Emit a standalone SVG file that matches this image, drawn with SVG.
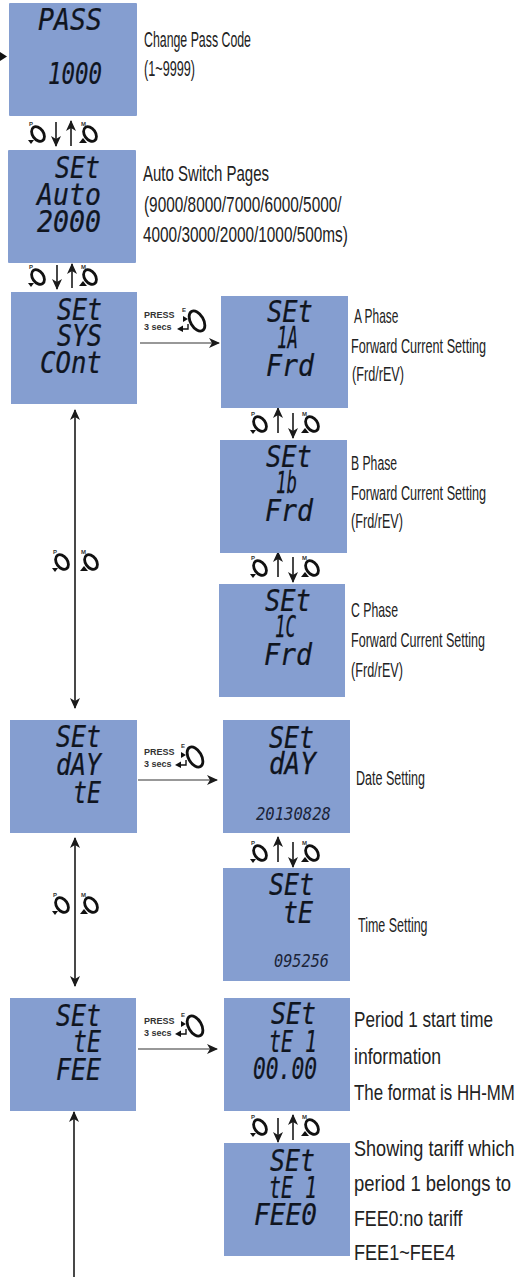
<svg xmlns="http://www.w3.org/2000/svg" width="517" height="1278" viewBox="0 0 517 1278">
<style>
text{font-family:"Liberation Sans",Arial,sans-serif;fill:#222}
.box{fill:#859ed0}
.lcd{font-family:"DejaVu Sans Mono",monospace;font-style:italic;font-size:24px;fill:#10151f;stroke:#10151f;stroke-width:.2}
.dig{font-family:"DejaVu Sans Mono",monospace;font-style:italic;font-size:17px;fill:#1b2438}
.lb{font-size:22px}
.lm{font-size:21px}
.ll{font-size:22px}
.pr{font-size:9px;font-weight:bold;fill:#333}
.k{font-size:6px;font-weight:bold;fill:#333}
.ln{stroke:#1a1a1a;stroke-width:1.6;fill:none}
.th{stroke:#333;stroke-width:1.2;fill:none}
.ring{fill:none;stroke:#111;stroke-width:2.8}
</style>
<defs>
<marker id="ah" markerUnits="userSpaceOnUse" markerWidth="13" markerHeight="12" refX="10" refY="5.5" orient="auto-start-reverse"><path d="M0 0.5L11 5.5L0 10.5L3 5.5Z" fill="#1a1a1a"/></marker>
<g id="bp"><ellipse rx="5.5" ry="8" transform="rotate(-35)" class="ring"/><path d="M-10 6L-4 6L-7 10Z" fill="#111"/></g>
<g id="bm"><ellipse rx="5.5" ry="8" transform="rotate(-35)" class="ring"/><path d="M-11 9L-3 9L-7 4Z" fill="#111"/></g>
<g id="be"><ellipse rx="6.5" ry="11" transform="rotate(-30)" class="ring"/><path d="M-14 -5L-14 1L-9 -2Z" fill="#111"/><path d="M-9 3V8H-15" fill="none" stroke="#111" stroke-width="1.4"/><path d="M-20 8L-14 4.5V11Z" fill="#111"/></g>
</defs>

<g id="connectors">
<path d="M0 52L7 56.5L0 61Z" fill="#111"/>
<path class="ln" marker-end="url(#ah)" d="M56 122V146"/>
<path class="ln" marker-end="url(#ah)" d="M71 146V121"/>
<path class="ln" marker-end="url(#ah)" d="M57 265V289"/>
<path class="ln" marker-end="url(#ah)" d="M72 288V264"/>
<path class="ln" marker-end="url(#ah)" d="M278 433V408"/>
<path class="ln" marker-end="url(#ah)" d="M293 413V438"/>
<path class="ln" marker-end="url(#ah)" d="M278 577V552"/>
<path class="ln" marker-end="url(#ah)" d="M293 557V582"/>
<path class="ln" marker-end="url(#ah)" d="M278 862V837"/>
<path class="ln" marker-end="url(#ah)" d="M293 842V867"/>
<path class="ln" marker-end="url(#ah)" d="M278 1118V1142"/>
<path class="ln" marker-end="url(#ah)" d="M293 1140V1115"/>
<path class="ln" marker-start="url(#ah)" marker-end="url(#ah)" d="M75 410V708"/>
<path class="ln" marker-start="url(#ah)" marker-end="url(#ah)" d="M75 838V986"/>
<path class="ln" marker-end="url(#ah)" d="M74 1277V1112"/>
<path class="th" marker-end="url(#ah)" d="M140 343H219"/>
<path class="th" marker-end="url(#ah)" d="M138 780H217"/>
<path class="th" marker-end="url(#ah)" d="M138 1049H217"/>
<g id="buttons">
<use href="#bp" x="38" y="134"/><use href="#bm" x="90" y="134"/><text class="k" x="29" y="126">P</text><text class="k" x="81" y="126">M</text>
<use href="#bp" x="38" y="277"/><use href="#bm" x="90" y="277"/><text class="k" x="29" y="269">P</text><text class="k" x="81" y="269">M</text>
<use href="#bp" x="260" y="424"/><use href="#bm" x="312" y="424"/><text class="k" x="251" y="416">P</text><text class="k" x="302" y="416">M</text>
<use href="#bp" x="260" y="568"/><use href="#bm" x="312" y="568"/><text class="k" x="251" y="560">P</text><text class="k" x="302" y="560">M</text>
<use href="#bp" x="260" y="853"/><use href="#bm" x="312" y="853"/><text class="k" x="251" y="845">P</text><text class="k" x="302" y="845">M</text>
<use href="#bp" x="260" y="1127"/><use href="#bm" x="312" y="1127"/><text class="k" x="251" y="1119">P</text><text class="k" x="302" y="1119">M</text>
<use href="#bp" x="62" y="562"/><use href="#bm" x="91" y="562"/><text class="k" x="53" y="554">P</text><text class="k" x="81" y="554">M</text>
<use href="#bp" x="62" y="905"/><use href="#bm" x="91" y="905"/><text class="k" x="53" y="897">P</text><text class="k" x="81" y="897">M</text>
</g>
<g id="press1"><text class="pr" x="144" y="318">PRESS</text><text class="pr" x="144" y="330">3 secs</text><use href="#be" x="197" y="321"/><text class="k" x="182" y="312">E</text></g>
<g id="press2"><text class="pr" x="144" y="755">PRESS</text><text class="pr" x="144" y="767">3 secs</text><use href="#be" x="195" y="757"/><text class="k" x="181" y="748">E</text></g>
<g id="press3"><text class="pr" x="144" y="1024">PRESS</text><text class="pr" x="144" y="1036">3 secs</text><use href="#be" x="195" y="1026"/><text class="k" x="181" y="1017">E</text></g>
</g>

<g id="node-pass"><rect class="box" x="9" y="3" width="128" height="113" rx="1"/>
<text class="lcd" transform="matrix(1.107 0 0 1.25 38 30)">PASS</text>
<text class="lcd" transform="matrix(.934 0 0 1.25 48 84)">1000</text></g>
<g id="node-auto"><rect class="box" x="8" y="150" width="128" height="113" rx="1"/>
<text class="lcd" transform="matrix(1.04 0 0 1.25 55 178)">SEt</text>
<text class="lcd" transform="matrix(1.107 0 0 1.25 37 205)">Auto</text>
<text class="lcd" transform="matrix(1.107 0 0 1.25 37 232)">2000</text></g>
<g id="node-sys"><rect class="box" x="11" y="292" width="126" height="112"/>
<text class="lcd" transform="matrix(1.04 0 0 1.25 57 320)">SEt</text>
<text class="lcd" transform="matrix(1.04 0 0 1.25 57 346)">SYS</text>
<text class="lcd" transform="matrix(1.07 0 0 1.25 40 373)">COnt</text></g>
<g id="node-1a"><rect class="box" x="221" y="296" width="127" height="112"/>
<text class="lcd" transform="matrix(1.06 0 0 1.25 267 322)">SEt</text>
<text class="lcd" transform="matrix(.727 0 0 1.25 277 348)">1A</text>
<text class="lcd" transform="matrix(1.107 0 0 1.25 266 376)">Frd</text></g>
<g id="node-1b"><rect class="box" x="220" y="440" width="127" height="113"/>
<text class="lcd" transform="matrix(1.06 0 0 1.25 266 467)">SEt</text>
<text class="lcd" transform="matrix(.727 0 0 1.25 276 493)">1b</text>
<text class="lcd" transform="matrix(1.107 0 0 1.25 265 521)">Frd</text></g>
<g id="node-1c"><rect class="box" x="219" y="584" width="126" height="113"/>
<text class="lcd" transform="matrix(1.06 0 0 1.25 265 611)">SEt</text>
<text class="lcd" transform="matrix(.727 0 0 1.25 275 637)">1C</text>
<text class="lcd" transform="matrix(1.107 0 0 1.25 264 665)">Frd</text></g>
<g id="node-day"><rect class="box" x="10" y="720" width="127" height="113"/>
<text class="lcd" transform="matrix(1.04 0 0 1.25 56 747)">SEt</text>
<text class="lcd" transform="matrix(1.04 0 0 1.25 56 775)">dAY</text>
<text class="lcd" transform="matrix(.97 0 0 1.25 73 803)">tE</text></g>
<g id="node-date"><rect class="box" x="223" y="720" width="127" height="113"/>
<text class="lcd" transform="matrix(1.04 0 0 1.25 269 748)">SEt</text>
<text class="lcd" transform="matrix(1.08 0 0 1.25 269 774)">dAY</text>
<text class="dig" transform="matrix(.916 0 0 1 256 820)">20130828</text></g>
<g id="node-time"><rect class="box" x="223" y="868" width="127" height="113"/>
<text class="lcd" transform="matrix(1.04 0 0 1.25 269 895)">SEt</text>
<text class="lcd" transform="matrix(1.04 0 0 1.25 283 923)">tE</text>
<text class="dig" transform="matrix(.896 0 0 1 274 967)">095256</text></g>
<g id="node-fee"><rect class="box" x="10" y="998" width="126" height="113"/>
<text class="lcd" transform="matrix(1.04 0 0 1.25 56 1026)">SEt</text>
<text class="lcd" transform="matrix(.97 0 0 1.25 73 1052)">tE</text>
<text class="lcd" transform="matrix(1.04 0 0 1.25 56 1080)">FEE</text></g>
<g id="node-te1"><rect class="box" x="224" y="998" width="126" height="113"/>
<text class="lcd" transform="matrix(1.04 0 0 1.25 271 1024)">SEt</text>
<text class="lcd" transform="matrix(.83 0 0 1.25 269 1052)">tE 1</text>
<text class="lcd" transform="matrix(.886 0 0 1.25 253 1079)">00.00</text></g>
<g id="node-fee0"><rect class="box" x="224" y="1143" width="126" height="113"/>
<text class="lcd" transform="matrix(1.04 0 0 1.25 270 1171)">SEt</text>
<text class="lcd" transform="matrix(.83 0 0 1.25 269 1198)">tE 1</text>
<text class="lcd" transform="matrix(1.09 0 0 1.25 254 1225)">FEE0</text></g>

<g id="labels">
<text class="lb" transform="matrix(.561 0 0 1 144 47)">Change Pass Code</text>
<text class="lb" transform="matrix(.575 0 0 1 144 76)">(1~9999)</text>
<text class="lb" transform="matrix(.683 0 0 1 143 181)">Auto Switch Pages</text>
<text class="lb" transform="matrix(.70 0 0 1 144 212)">(9000/8000/7000/6000/5000/</text>
<text class="lb" transform="matrix(.698 0 0 1 143 242)">4000/3000/2000/1000/500ms)</text>
<text class="lm" transform="matrix(.567 0 0 1 354 323)">A Phase</text>
<text class="lm" transform="matrix(.603 0 0 1 351 353)">Forward Current Setting</text>
<text class="lm" transform="matrix(.602 0 0 1 352 381)">(Frd/rEV)</text>
<text class="lm" transform="matrix(.58 0 0 1 351 470)">B Phase</text>
<text class="lm" transform="matrix(.603 0 0 1 351 500)">Forward Current Setting</text>
<text class="lm" transform="matrix(.602 0 0 1 351 528)">(Frd/rEV)</text>
<text class="lm" transform="matrix(.584 0 0 1 351 617)">C Phase</text>
<text class="lm" transform="matrix(.598 0 0 1 351 647)">Forward Current Setting</text>
<text class="lm" transform="matrix(.602 0 0 1 351 677)">(Frd/rEV)</text>
<text class="lm" transform="matrix(.597 0 0 1 356 785)">Date Setting</text>
<text class="lm" transform="matrix(.594 0 0 1 358 932)">Time Setting</text>
<text class="ll" transform="matrix(.779 0 0 1 354 1027)">Period 1 start time</text>
<text class="ll" transform="matrix(.80 0 0 1 354 1064)">information</text>
<text class="ll" transform="matrix(.766 0 0 1 354 1100)">The format is HH-MM</text>
<text class="ll" transform="matrix(.823 0 0 1 354 1156)">Showing tariff which</text>
<text class="ll" transform="matrix(.84 0 0 1 354 1191)">period 1 belongs to</text>
<text class="ll" transform="matrix(.81 0 0 1 354 1226)">FEE0:no tariff</text>
<text class="ll" transform="matrix(.822 0 0 1 354 1260)">FEE1~FEE4</text>
</g>
</svg>
